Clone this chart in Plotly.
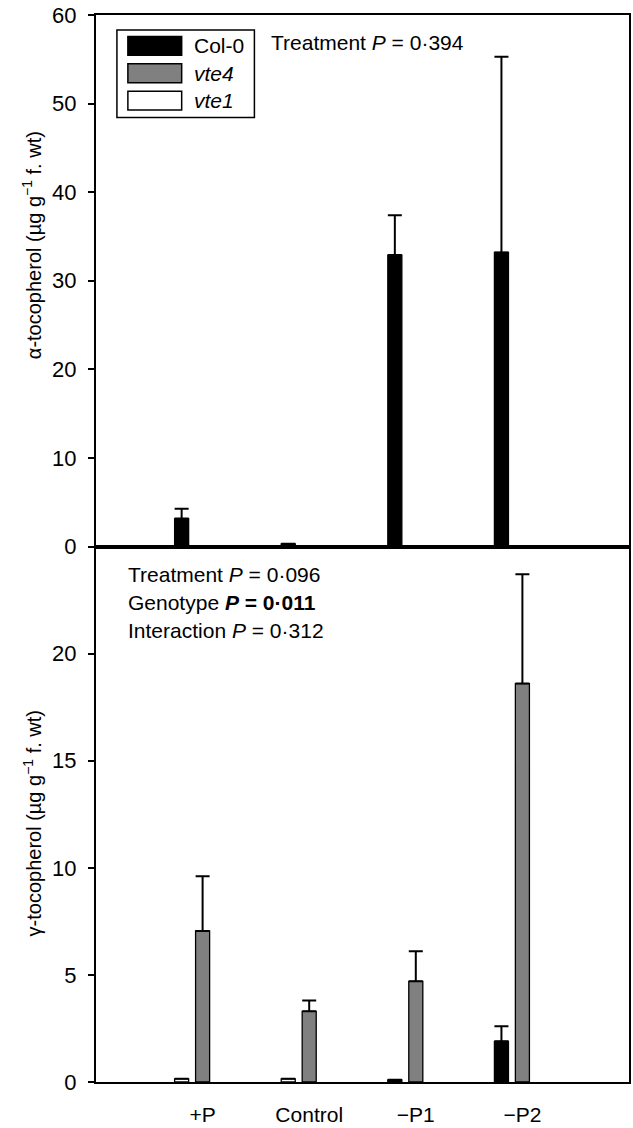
import plotly.graph_objects as go

# ---------------- data ----------------
categories = ["+P", "Control", "\u2212P1", "\u2212P2"]
genotypes = ["Col-0", "vte4", "vte1"]

alpha_col0 = [3.15, 0.3, 32.9, 33.2]
alpha_col0_err = [1.1, None, 4.5, 22.1]
alpha_vte4 = [0, 0, 0, 0]
alpha_vte1 = [0, 0, 0, 0]

gamma_col0 = [0.15, 0.15, 0.1, 1.9]
gamma_col0_err = [None, None, None, 0.7]
gamma_vte4 = [7.05, 3.3, 4.7, 18.6]
gamma_vte4_err = [2.55, 0.5, 1.4, 5.1]
gamma_vte1 = [0, 0, 0, 0]

alpha_ticks = [0, 10, 20, 30, 40, 50, 60]
gamma_ticks = [0, 5, 10, 15, 20]

# ---------------- styles ----------------
FONT = "Liberation Sans, Arial, Helvetica, sans-serif"
FS = 21
TFS = 22
W, H = 633, 1128
L, R, T, B = 96, 2, 15, 41
PW, PH = W - L - R, H - T - B
genotype_colors = ["black", "#808080", "white"]
gamma_col0_colors = ["white", "white", "black", "black"]


def px(x):
    return (x - L) / PW


def py(y):
    return (H - B - y) / PH


split = py(549)

fig = go.Figure()

err_style = dict(type="data", symmetric=False, color="black", thickness=2, width=7)


def add_bars(vals, errs, name, color, xa, ya):
    kw = {}
    if errs is not None:
        kw["error_y"] = dict(array=errs, arrayminus=[0] * len(vals), **err_style)
    lw = [1.3 if v > 0 else 0 for v in vals]
    fig.add_trace(go.Bar(
        x=categories, y=vals, name=name, xaxis=xa, yaxis=ya,
        marker=dict(color=color, line=dict(color="black", width=lw)),
        showlegend=False, **kw))


# top panel (alpha)
add_bars(alpha_col0, alpha_col0_err, genotypes[0], genotype_colors[0], "x2", "y2")
add_bars(alpha_vte4, None, genotypes[1], genotype_colors[1], "x2", "y2")
add_bars(alpha_vte1, None, genotypes[2], genotype_colors[2], "x2", "y2")
# bottom panel (gamma)
add_bars(gamma_col0, gamma_col0_err, genotypes[0], gamma_col0_colors, "x", "y")
add_bars(gamma_vte4, gamma_vte4_err, genotypes[1], genotype_colors[1], "x", "y")
add_bars(gamma_vte1, None, genotypes[2], genotype_colors[2], "x", "y")

axis_common = dict(showline=True, linecolor="black", linewidth=2, mirror=True,
                   showgrid=False, zeroline=False)

fig.update_layout(
    width=W, height=H,
    margin=dict(l=L, r=R, t=T, b=B, pad=0),
    paper_bgcolor="white", plot_bgcolor="white",
    barmode="group", bargap=0.41, bargroupgap=0.33,
    font=dict(family=FONT, size=FS, color="black"),
    xaxis=dict(domain=[0, 1], anchor="y", type="category",
               categoryorder="array", categoryarray=categories,
               range=[-1, 4], ticks="", ticklabelstandoff=13,
               tickfont=dict(family=FONT, size=FS, color="black"), **axis_common),
    xaxis2=dict(domain=[0, 1], anchor="y2", type="category",
                categoryorder="array", categoryarray=categories,
                range=[-1, 4], ticks="", showticklabels=False, **axis_common),
    yaxis=dict(domain=[0, split], anchor="x", range=[0, 25],
               tickvals=gamma_ticks, ticks="outside", ticklen=6, tickwidth=1.5,
               tickcolor="black", ticklabelstandoff=7,
               tickfont=dict(family=FONT, size=TFS, color="black"), **axis_common),
    yaxis2=dict(domain=[split, 1], anchor="x2", range=[0, 60],
                tickvals=alpha_ticks, ticks="outside", ticklen=6, tickwidth=1.5,
                tickcolor="black", ticklabelstandoff=7,
                tickfont=dict(family=FONT, size=TFS, color="black"), **axis_common),
)

annotations = [
    dict(x=px(32), y=py(246), text="\u03b1-tocopherol (\u00b5g g<sup>\u22121</sup> f. wt)",
         textangle=-90, size=20),
    dict(x=px(32), y=py(827), text="\u03b3-tocopherol (\u00b5g g<sup>\u22121</sup> f. wt)",
         textangle=-90, size=20),
    dict(x=px(270), y=py(43), text="Treatment <i>P</i> = 0\u00b7394", xanchor="left"),
    dict(x=px(126), y=py(577), text="Treatment <i>P</i> = 0\u00b7096", xanchor="left"),
    dict(x=px(126), y=py(605), text="Genotype <b><i>P</i> = 0\u00b7011</b>", xanchor="left"),
    dict(x=px(126), y=py(633), text="Interaction <i>P</i> = 0\u00b7312", xanchor="left"),
]

shapes = [dict(type="rect", xref="paper", yref="paper",
               x0=px(117), x1=px(255), y0=py(118), y1=py(30),
               line=dict(color="black", width=1.5), fillcolor="white", layer="above")]
row_centers = [46, 73.5, 101]
for name, col, yc in zip(genotypes, genotype_colors, row_centers):
    shapes.append(dict(type="rect", xref="paper", yref="paper",
                       x0=px(128), x1=px(182), y0=py(yc + 9.5), y1=py(yc - 9.5),
                       line=dict(color="black", width=1.5), fillcolor=col, layer="above"))
    label = name if name == "Col-0" else "<i>%s</i>" % name
    annotations.append(dict(x=px(192), y=py(yc), text=label, xanchor="left"))

for a in annotations:
    size = a.pop("size", FS)
    a.update(xref="paper", yref="paper", showarrow=False,
             font=dict(family=FONT, size=size, color="black"))
    a.setdefault("xanchor", "center")
    a.setdefault("yanchor", "middle")

fig.update_layout(annotations=annotations, shapes=shapes)

fig.write_html("out.html", config={"displayModeBar": False},
               post_script="document.body.style.margin='0';document.body.style.padding='0';")
